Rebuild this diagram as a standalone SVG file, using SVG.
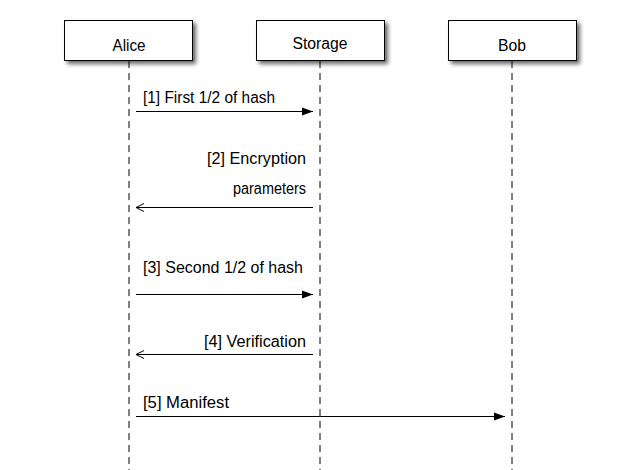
<svg xmlns="http://www.w3.org/2000/svg" width="640" height="470" viewBox="0 0 640 470">
<style>
.box{fill:#fff;stroke:#000;stroke-width:1}
.life{stroke:#000;stroke-width:1;stroke-dasharray:7,5;fill:none}
.msg{stroke:#000;stroke-width:1.2;fill:none}
.lbl{font-family:"Liberation Sans",Arial,sans-serif;font-size:16px;fill:#000}
.nm{font-family:"Liberation Sans",Arial,sans-serif;font-size:16px;fill:#000;text-anchor:middle}
</style>
<defs>
<filter id="sh" x="-10%" y="-10%" width="130%" height="150%">
<feGaussianBlur in="SourceAlpha" stdDeviation="2"/>
<feOffset dx="3" dy="3" result="b"/>
<feComponentTransfer><feFuncA type="linear" slope="0.6"/></feComponentTransfer>
<feMerge><feMergeNode/><feMergeNode in="SourceGraphic"/></feMerge>
</filter>
<marker id="fill" markerWidth="12" markerHeight="10" refX="11" refY="5" orient="auto" markerUnits="userSpaceOnUse">
<path d="M0,1 L11,5 L0,9 Z" fill="#000"/>
</marker>
<marker id="open" markerWidth="12" markerHeight="10" refX="1" refY="5" orient="auto" markerUnits="userSpaceOnUse">
<path d="M9,1 L1,5 L9,9" fill="none" stroke="#000" stroke-width="1"/>
</marker>
</defs>
<g id="lifelines">
<line class="life" x1="129" y1="61" x2="129" y2="470"/>
<line class="life" x1="320" y1="61" x2="320" y2="470"/>
<line class="life" x1="512" y1="61" x2="512" y2="470"/>
</g>
<g id="alice">
<rect class="box" x="64.5" y="20.5" width="128" height="40" filter="url(#sh)"/>
<text class="nm" x="129" y="51" textLength="33" lengthAdjust="spacingAndGlyphs">Alice</text>
</g>
<g id="storage">
<rect class="box" x="256.5" y="20.5" width="128" height="40" filter="url(#sh)"/>
<text class="nm" x="320" y="49" textLength="55" lengthAdjust="spacingAndGlyphs">Storage</text>
</g>
<g id="bob">
<rect class="box" x="448.5" y="20.5" width="128" height="40" filter="url(#sh)"/>
<text class="nm" x="512" y="51" textLength="28" lengthAdjust="spacingAndGlyphs">Bob</text>
</g>
<g id="connectors">
<line class="msg" x1="136" y1="111.5" x2="313" y2="111.5" marker-end="url(#fill)"/>
<text class="lbl" x="143" y="103" textLength="132" lengthAdjust="spacingAndGlyphs">[1] First 1/2 of hash</text>
<line class="msg" x1="136" y1="207.5" x2="313" y2="207.5" marker-start="url(#open)"/>
<text class="lbl" x="207" y="164" textLength="99" lengthAdjust="spacingAndGlyphs">[2] Encryption</text>
<text class="lbl" x="233" y="194" textLength="73" lengthAdjust="spacingAndGlyphs">parameters</text>
<line class="msg" x1="136" y1="294.5" x2="313" y2="294.5" marker-end="url(#fill)"/>
<text class="lbl" x="143" y="273" textLength="160" lengthAdjust="spacingAndGlyphs">[3] Second 1/2 of hash</text>
<line class="msg" x1="136" y1="354.5" x2="313" y2="354.5" marker-start="url(#open)"/>
<text class="lbl" x="204" y="347" textLength="102" lengthAdjust="spacingAndGlyphs">[4] Verification</text>
<line class="msg" x1="136" y1="416.5" x2="505" y2="416.5" marker-end="url(#fill)"/>
<text class="lbl" x="143" y="408" textLength="86" lengthAdjust="spacingAndGlyphs">[5] Manifest</text>
</g>
</svg>
